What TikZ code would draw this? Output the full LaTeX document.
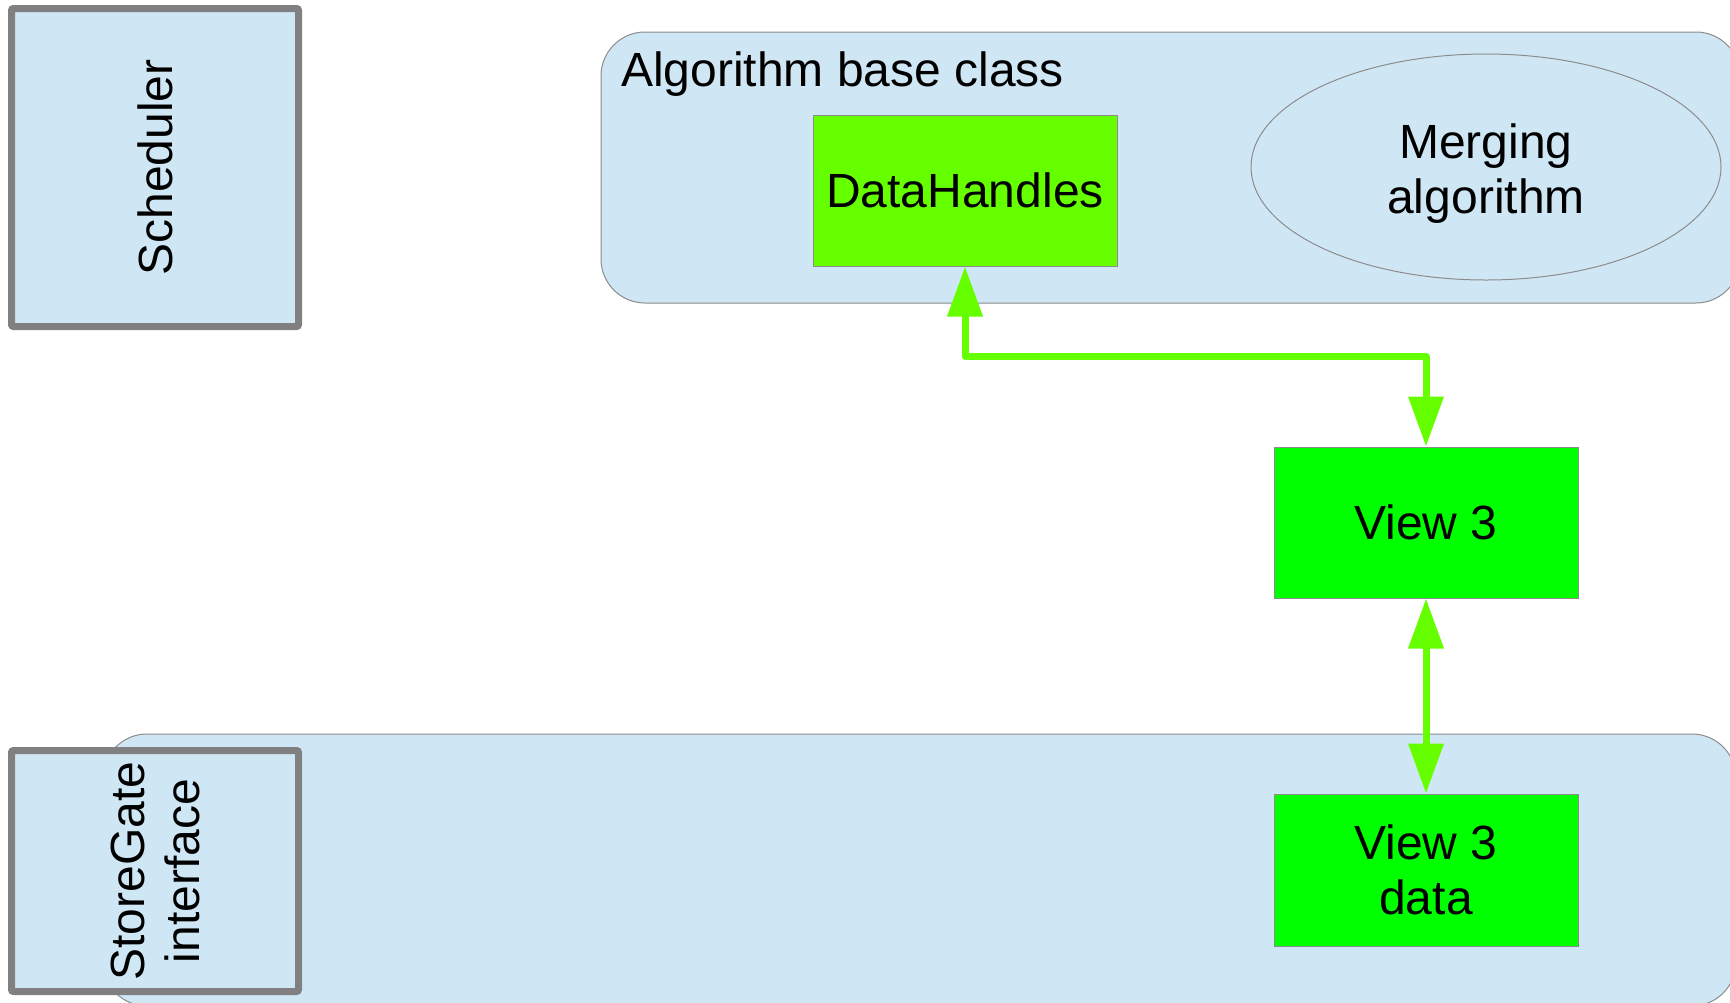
\documentclass[tikz,border=0pt]{standalone}
\usepackage{fontspec}
\setmainfont{Liberation Sans}
\usetikzlibrary{arrows.meta,shapes.geometric}

\definecolor{paleblue}{RGB}{207,231,245}
\definecolor{limegreen}{RGB}{102,255,0}
\definecolor{puregreen}{RGB}{0,255,0}
\definecolor{edgegray}{RGB}{140,140,140}
\definecolor{framegray}{RGB}{128,128,128}

\tikzset{
  region/.style={draw=edgegray, line width=1pt, fill=paleblue, rounded corners=44pt, inner sep=0pt},
  sysbox/.style={draw=framegray, line width=7pt, fill=paleblue, rounded corners=2pt,
                 rotate=90, align=center, inner sep=0pt},
  greenbox/.style={draw=edgegray, line width=1pt, minimum width=304pt, minimum height=151pt,
                   align=center, inner sep=0pt},
  oval/.style={ellipse, draw=edgegray, line width=1pt, fill=paleblue, inner sep=0pt},
  label/.style={font=\fontsize{48}{55}\selectfont},
  link/.style={limegreen, line width=7pt, line join=round,
               {Triangle[length=50pt,width=34pt]}-{Triangle[length=50pt,width=34pt]}}
}

\begin{document}
\begin{tikzpicture}[x=1pt, y=-1pt, every node/.style={label}]
\clip (0,0) rectangle (1730,1002);
\fill[white] (0,0) rectangle (1730,1002);

% store region with the StoreGate interface
\node[region, minimum width=1633pt, minimum height=272pt] (store) at (919.5,870) {};
\node[sysbox, minimum width=241pt, minimum height=287pt] (sg) at (155,871) {StoreGate\\interface};

% scheduler
\node[sysbox, minimum width=318pt, minimum height=287pt] (sched) at (155,167.5) {Scheduler};

% algorithm base class region
\node[region, minimum width=1139pt, minimum height=271pt] (alg) at (1170.5,167.5) {};
\node[anchor=base west, inner sep=0pt] (algtitle) at (621,86) {Algorithm base class};
\node[greenbox, fill=limegreen] (dh) at (965,190.5) {DataHandles};
\node[oval, minimum width=470pt, minimum height=226pt] (merge) at (1486,167) {};
\node[align=center, inner sep=0pt] (mergetext) at (1486,174) {Merging\\algorithm};

% views
\node[greenbox, fill=puregreen] (v3) at (1426,522.5) {View 3};
\node[greenbox, fill=puregreen, minimum height=152pt] (v3d) at (1426,870) {View 3\\data};

% connectors
\draw[link] (dh.south) -- ++(0,90) -| (v3.north);
\draw[link] (v3.south) -- (v3d.north);
\end{tikzpicture}
\end{document}
